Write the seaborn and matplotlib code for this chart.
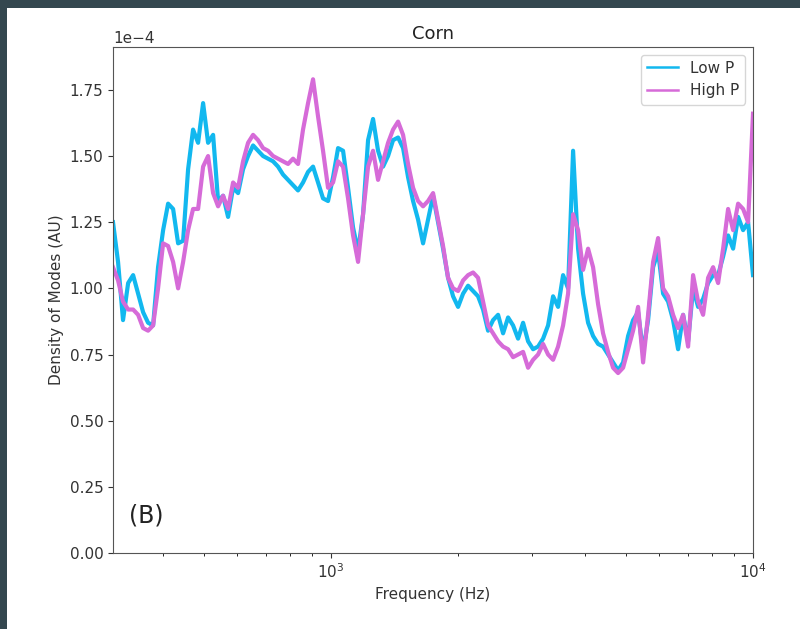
import numpy as np
import pandas as pd
import matplotlib
matplotlib.use("Agg")
import matplotlib.pyplot as plt
from matplotlib.patches import Rectangle
import seaborn as sns

# Frequencies (Hz)
freq = [304.2, 312.7, 321.3, 330.4, 339.5, 348.9, 358.5, 368.4, 378.6, 389.0,
        399.9, 410.9, 422.3, 434.0, 446.0, 458.3, 470.9, 484.0, 497.4, 511.1,
        525.3, 539.8, 554.7, 570.0, 585.8, 602.0, 618.6, 635.7, 653.3, 671.4,
        689.9, 709.0, 728.6, 748.7, 769.4, 790.7, 812.6, 835.0, 858.1, 881.9,
        906.3, 931.3, 957.1, 983.6, 1010.9, 1038.9, 1067.6, 1097.1, 1127.5, 1158.7,
        1190.7, 1223.7, 1257.5, 1292.3, 1328.1, 1364.8, 1402.6, 1441.4, 1481.3, 1522.2,
        1564.4, 1607.6, 1652.1, 1697.8, 1744.8, 1793.1, 1842.7, 1893.6, 1946.0, 1999.9,
        2055.2, 2112.0, 2170.5, 2230.5, 2292.2, 2355.6, 2420.8, 2487.8, 2556.6, 2627.3,
        2700.0, 2774.7, 2851.5, 2930.4, 3011.4, 3094.7, 3180.4, 3268.3, 3358.8, 3451.7,
        3547.2, 3645.3, 3746.2, 3849.8, 3956.3, 4065.8, 4178.2, 4293.8, 4412.6, 4534.7,
        4660.2, 4789.1, 4921.6, 5057.8, 5197.7, 5341.5, 5489.3, 5641.1, 5797.2, 5957.6,
        6122.4, 6291.8, 6465.9, 6644.8, 6828.6, 7017.5, 7211.7, 7411.2, 7616.2, 7826.9,
        8043.5, 8266.0, 8494.7, 8729.7, 8971.2, 9219.4, 9474.5, 9736.6, 10000.0]

# Density of modes, in units of 1e-4
low_p = [1.25, 1.10, 0.88, 1.02, 1.05, 0.98, 0.91, 0.87, 0.86, 1.08,
         1.22, 1.32, 1.30, 1.17, 1.18, 1.45, 1.60, 1.55, 1.70, 1.55,
         1.58, 1.33, 1.35, 1.27, 1.38, 1.36, 1.45, 1.50, 1.54, 1.52,
         1.50, 1.49, 1.48, 1.46, 1.43, 1.41, 1.39, 1.37, 1.40, 1.44,
         1.46, 1.40, 1.34, 1.33, 1.42, 1.53, 1.52, 1.38, 1.23, 1.14,
         1.28, 1.56, 1.64, 1.52, 1.46, 1.50, 1.56, 1.57, 1.53, 1.42,
         1.33, 1.26, 1.17, 1.26, 1.35, 1.25, 1.15, 1.04, 0.97, 0.93,
         0.98, 1.01, 0.99, 0.97, 0.92, 0.84, 0.88, 0.90, 0.83, 0.89,
         0.86, 0.81, 0.87, 0.80, 0.77, 0.78, 0.81, 0.86, 0.97, 0.93,
         1.05, 1.00, 1.52, 1.15, 0.98, 0.87, 0.82, 0.79, 0.78, 0.75,
         0.72, 0.69, 0.72, 0.82, 0.88, 0.91, 0.76, 0.88, 1.08, 1.14,
         0.98, 0.95, 0.88, 0.77, 0.90, 0.80, 1.00, 0.93, 0.96, 1.02,
         1.05, 1.05, 1.12, 1.20, 1.15, 1.27, 1.22, 1.25, 1.05]

high_p = [1.08, 1.03, 0.95, 0.92, 0.92, 0.90, 0.85, 0.84, 0.86, 1.00,
          1.17, 1.16, 1.10, 1.00, 1.10, 1.22, 1.30, 1.30, 1.46, 1.50,
          1.36, 1.31, 1.35, 1.30, 1.40, 1.38, 1.48, 1.55, 1.58, 1.56,
          1.53, 1.52, 1.50, 1.49, 1.48, 1.47, 1.49, 1.47, 1.60, 1.70,
          1.79, 1.65, 1.52, 1.38, 1.40, 1.48, 1.46, 1.34, 1.20, 1.10,
          1.28, 1.46, 1.52, 1.41, 1.48, 1.55, 1.60, 1.63, 1.58, 1.47,
          1.38, 1.33, 1.31, 1.33, 1.36, 1.26, 1.16, 1.04, 1.00, 0.99,
          1.03, 1.05, 1.06, 1.04, 0.95, 0.86, 0.83, 0.80, 0.78, 0.77,
          0.74, 0.75, 0.76, 0.70, 0.73, 0.75, 0.79, 0.75, 0.73, 0.78,
          0.86, 0.98, 1.28, 1.22, 1.07, 1.15, 1.08, 0.94, 0.83, 0.76,
          0.70, 0.68, 0.70, 0.77, 0.84, 0.93, 0.72, 0.90, 1.10, 1.19,
          1.00, 0.97, 0.90, 0.85, 0.90, 0.78, 1.05, 0.95, 0.90, 1.04,
          1.08, 1.02, 1.15, 1.30, 1.22, 1.32, 1.30, 1.25, 1.66]

series_names = ["Low P", "High P"]
colors = ["#12b8ef", "#d66bd8"]

scale = 1e-4
df = pd.concat([
    pd.DataFrame({"Frequency": freq, "Density": np.array(low_p) * scale, "Group": series_names[0]}),
    pd.DataFrame({"Frequency": freq, "Density": np.array(high_p) * scale, "Group": series_names[1]}),
], ignore_index=True)

plt.rcParams["font.family"] = ["DejaVu Sans"]

fig = plt.figure(figsize=(8.0, 6.29), dpi=100)
fig.patch.set_facecolor("#34474f")
fig.patches.append(Rectangle((7 / 800, 0), 1, 1 - 8 / 629, transform=fig.transFigure,
                             facecolor="white", edgecolor="none", zorder=-10))

ax = fig.add_axes([113 / 800, 1 - 553 / 629, 640 / 800, (553 - 47) / 629])
sns.lineplot(data=df, x="Frequency", y="Density", hue="Group", hue_order=series_names,
             palette=colors, linewidth=3.0, ax=ax, estimator=None, sort=True)

ax.set_xscale("log")
ax.set_xlim(304.2, 10000)
ax.set_ylim(0, 1.912e-4)
ax.set_yticks(np.arange(0, 1.76e-4, 0.25e-4))
ax.ticklabel_format(axis="y", style="sci", scilimits=(0, 0))
ax.tick_params(labelsize=11, colors="#333333")
for sp in ax.spines.values():
    sp.set_color("#555555")
ax.yaxis.get_offset_text().set_fontsize(11)
ax.yaxis.get_offset_text().set_color("#333333")

ax.set_title("Corn", fontsize=13, color="#222222")
ax.set_xlabel("Frequency (Hz)", fontsize=11, color="#333333")
ax.set_ylabel("Density of Modes (AU)", fontsize=11, color="#333333")
ax.text(0.025, 0.06, "(B)", transform=ax.transAxes, fontsize=17, color="#222222")

leg = ax.legend(loc="upper right", fontsize=11, handlelength=2.0, frameon=True)
leg.get_frame().set_edgecolor("#cccccc")
for line in leg.get_lines():
    line.set_linewidth(1.8)
for t in leg.get_texts():
    t.set_color("#333333")

fig.savefig("out.png", dpi=100, facecolor=fig.get_facecolor())
